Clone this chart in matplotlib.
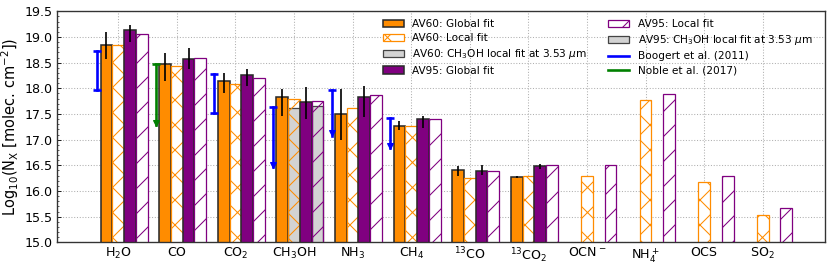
import numpy as np
import matplotlib
matplotlib.use("Agg")
import matplotlib.pyplot as plt
from matplotlib.ticker import MultipleLocator
from matplotlib.patches import Patch
from matplotlib.lines import Line2D

nan = np.nan

species = ['H$_2$O', 'CO', 'CO$_2$', 'CH$_3$OH', 'NH$_3$', 'CH$_4$',
           '$^{13}$CO', '$^{13}$CO$_2$', 'OCN$^-$', 'NH$_4^+$', 'OCS', 'SO$_2$']

# AV60 global fit (value, upper end, lower end of error bar)
av60_global = [18.84, 18.47, 18.15, 17.83, 17.49, 17.27, 16.40, 16.27, nan, nan, nan, nan]
av60_global_hi = [19.10, 18.68, 18.29, 17.98, 17.98, 17.36, 16.49, 16.29, nan, nan, nan, nan]
av60_global_lo = [18.58, 18.14, 17.90, 17.46, 17.00, 17.19, 16.29, 16.25, nan, nan, nan, nan]
av60_local = [18.84, 18.44, 18.08, 17.80, 17.62, 17.27, 16.26, 16.29, 16.30, 17.77, 16.18, 15.53]

# AV95
av95_global = [19.13, 18.57, 18.25, 17.74, 17.83, 17.40, 16.38, 16.48, nan, nan, nan, nan]
av95_global_hi = [19.24, 18.79, 18.37, 18.03, 18.04, 17.46, 16.50, 16.52, nan, nan, nan, nan]
av95_global_lo = [18.91, 18.38, 18.04, 17.40, 17.45, 17.22, 16.31, 16.42, nan, nan, nan, nan]
av95_local = [19.05, 18.60, 18.21, 17.76, 17.86, 17.41, 16.38, 16.50, 16.50, 17.89, 16.30, 15.67]

# CH3OH local fit at 3.53 um
ch3oh_idx = 3
av60_ch3oh_353 = 17.62
av95_ch3oh_353 = 17.65

# literature ranges
boogert_idx = [0, 2, 3, 4, 5]
boogert_top = [18.73, 18.28, 17.64, 17.96, 17.43]
boogert_bot = [17.97, 17.52, 16.47, 17.08, 16.84]
boogert_limit = [False, False, True, True, True]

noble_idx = [1]
noble_top = [18.48]
noble_bot = [17.28]
noble_limit = [True]

orange = '#ff8c00'
purple = '#800080'
edge = '#2a2a2a'

dpi = 831 / 11
fig = plt.figure(figsize=(11, 266 / dpi), dpi=dpi)
ax = fig.add_axes([0.0682, 0.0891, 0.9245, 0.8684])
ax.set_axisbelow(True)
ax.grid(True, linestyle=':', color='#b0b0b0', linewidth=1)

x = np.arange(len(species))
w = 0.2

def err(v, hi, lo):
    v, hi, lo = map(np.asarray, (v, hi, lo))
    return [v - lo, hi - v]

# grey CH3OH 3.53 um bars (sit under the hatched local fits)
ax.bar(x[ch3oh_idx], av60_ch3oh_353, w, color='lightgray', edgecolor='#444444', lw=1.2, zorder=1.5)
ax.bar(x[ch3oh_idx] + 2 * w, av95_ch3oh_353, w, color='lightgray', edgecolor='#444444', lw=1.2, zorder=1.5)

face = ['white'] * len(species)
face[ch3oh_idx] = 'none'

ax.bar(x - w, av60_global, w, color=orange, edgecolor=edge, lw=1.5, zorder=2)
ax.bar(x, av60_local, w, color=face, edgecolor=orange, hatch='x', lw=1.2, zorder=2)
ax.bar(x + w, av95_global, w, color=purple, edgecolor=edge, lw=1.5, zorder=2)
ax.bar(x + 2 * w, av95_local, w, color=face, edgecolor=purple, hatch='/', lw=1.2, zorder=2)

ax.errorbar(x - w, av60_global, yerr=err(av60_global, av60_global_hi, av60_global_lo),
            fmt='none', ecolor='black', elinewidth=1.6, capsize=0, zorder=3)
ax.errorbar(x + w, av95_global, yerr=err(av95_global, av95_global_hi, av95_global_lo),
            fmt='none', ecolor='black', elinewidth=1.6, capsize=0, zorder=3)

def ranges(idx, top, bot, lim, color):
    for i, t, b, l in zip(idx, top, bot, lim):
        xi = x[i] - 0.36
        ax.plot([xi, xi], [b, t], color=color, lw=2.5, zorder=3)
        ax.plot(xi, t, marker='_', ms=8, mew=2.5, color=color, zorder=3)
        if l:
            ax.plot(xi, b + 0.04, marker='v', ms=5, color=color, zorder=3)
        else:
            ax.plot(xi, b, marker='_', ms=8, mew=2.5, color=color, zorder=3)

ranges(boogert_idx, boogert_top, boogert_bot, boogert_limit, 'blue')
ranges(noble_idx, noble_top, noble_bot, noble_limit, 'green')

ax.set_xlim(-1.05, 12.06)
ax.set_ylim(15.0, 19.5)
ax.set_xticks(x)
ax.set_xticklabels(species, fontsize=12)
ax.yaxis.set_major_locator(MultipleLocator(0.5))
ax.yaxis.set_minor_locator(MultipleLocator(0.1))
ax.tick_params(axis='y', which='both', direction='in', labelsize=12)
ax.tick_params(axis='x', direction='in')
ax.set_ylabel('Log$_{10}$(N$_{\\rm X}$ [molec. cm$^{-2}$])', fontsize=14)
for s in ax.spines.values():
    s.set_color('#333333')
    s.set_linewidth(1.3)

handles = [
    Patch(facecolor=orange, edgecolor=edge, lw=1.5, label='AV60: Global fit'),
    Patch(facecolor='white', edgecolor=orange, hatch='x', lw=1.2, label='AV60: Local fit'),
    Patch(facecolor='lightgray', edgecolor='#444444', lw=1.2, label='AV60: CH$_3$OH local fit at 3.53 $\\mu$m'),
    Patch(facecolor=purple, edgecolor=edge, lw=1.5, label='AV95: Global fit'),
    Patch(facecolor='white', edgecolor=purple, hatch='/', lw=1.2, label='AV95: Local fit'),
    Patch(facecolor='lightgray', edgecolor='#444444', lw=1.2, label='AV95: CH$_3$OH local fit at 3.53 $\\mu$m'),
    Line2D([], [], color='blue', lw=2.5, label='Boogert et al. (2011)'),
    Line2D([], [], color='green', lw=2.5, label='Noble et al. (2017)'),
]
ax.legend(handles=handles, ncol=2, loc='upper left', bbox_to_anchor=(0.419, 0.985),
          frameon=False, fontsize=10, borderaxespad=0, labelspacing=0.4)

fig.savefig('out.png', dpi=dpi)
